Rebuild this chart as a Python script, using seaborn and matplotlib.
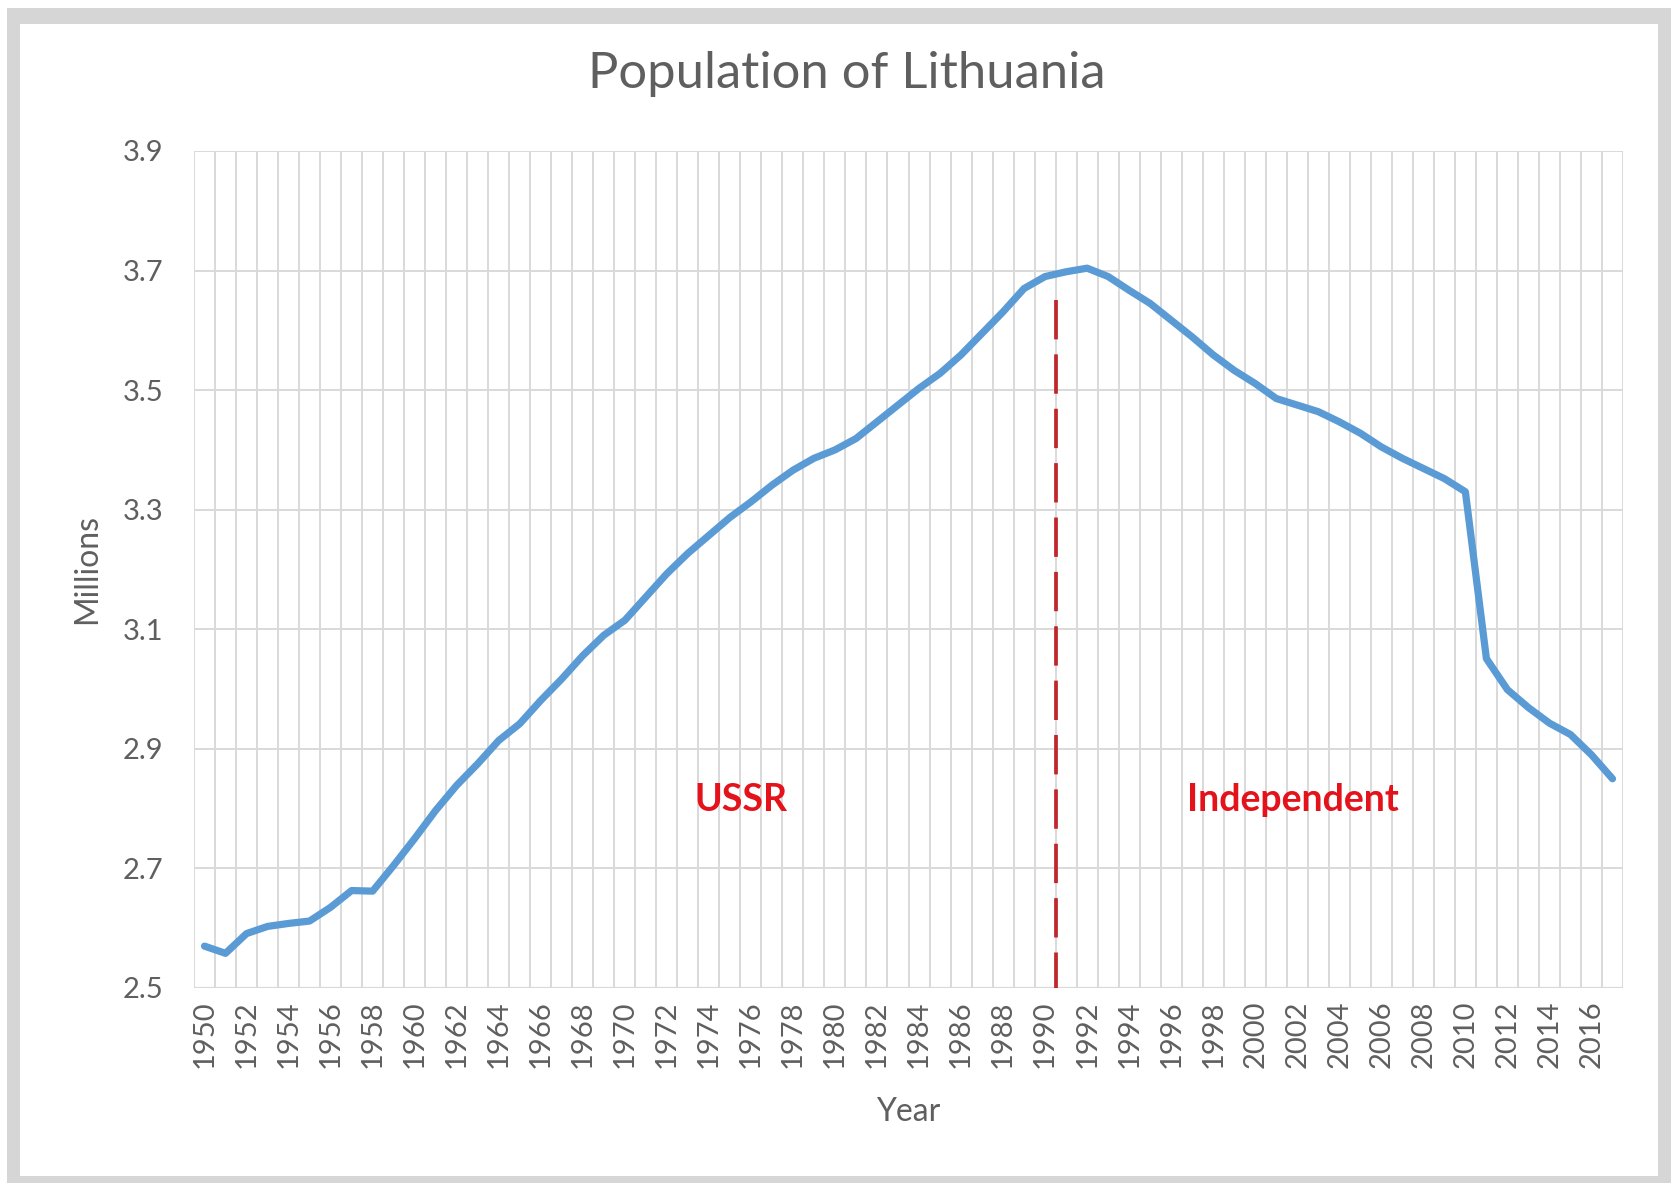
import numpy as np
import pandas as pd
import matplotlib
matplotlib.use("Agg")
import matplotlib.pyplot as plt
import seaborn as sns
from matplotlib.patches import Rectangle

years = list(range(1950, 2018))
population = [
    2.570, 2.558, 2.591, 2.603, 2.608, 2.612, 2.635, 2.663, 2.662, 2.705,
    2.750, 2.797, 2.839, 2.875, 2.914, 2.942, 2.981, 3.017, 3.056, 3.090,
    3.115, 3.154, 3.193, 3.227, 3.257, 3.287, 3.313, 3.341, 3.366, 3.386,
    3.400, 3.419, 3.447, 3.475, 3.503, 3.528, 3.559, 3.595, 3.631, 3.670,
    3.690, 3.698, 3.704, 3.690, 3.667, 3.645, 3.617, 3.589, 3.559, 3.533,
    3.511, 3.486, 3.475, 3.464, 3.447, 3.428, 3.405, 3.386, 3.369, 3.352,
    3.330, 3.051, 2.999, 2.969, 2.943, 2.924, 2.890, 2.850,
]
divider_year = 1990.5
divider_top = 3.65
period_labels = ["USSR", "Independent"]
period_x = [1975.5, 2001.8]
period_y = 2.815

df = pd.DataFrame({"Year": years, "Millions": population})

sns.set_style("white")
plt.rcParams['font.family'] = ['Lato', 'DejaVu Sans']

gray_text = '#5f5f5f'
grid_col = '#d9d9d9'

fig = plt.figure(figsize=(16.71, 11.83), dpi=100)
W, H = 1671, 1183

# frame around the chart
fig.patches.append(Rectangle((7 / W, 0), 1 - 7 / W, 1 - 8 / H, transform=fig.transFigure,
                             facecolor='#d6d6d6', edgecolor='none', zorder=-10))
fig.patches.append(Rectangle((20 / W, 7 / H), (1658 - 20) / W, (1176 - 24) / H,
                             transform=fig.transFigure, facecolor='white',
                             edgecolor='none', zorder=-9))

ax = fig.add_axes([194 / W, (H - 988) / H, (1623 - 194) / W, (988 - 151) / H])
ax.set_facecolor('none')

sns.lineplot(data=df, x="Year", y="Millions", ax=ax, color='#5b9bd5', linewidth=5.2,
             solid_joinstyle='round', solid_capstyle='round', zorder=3)

# dashed divider, drawn top-down so the pattern starts at the top
ax.plot([divider_year, divider_year], [divider_top, 2.5], color='#c0272d',
        linewidth=2.7, dashes=(10.5, 4), zorder=4)

for lab, xx in zip(period_labels, period_x):
    ax.text(xx, period_y, lab, color='#e3121b', fontsize=27, fontweight='bold',
            ha='center', va='center', zorder=5)

ax.set_xlim(years[0] - 0.5, years[-1] + 0.5)
ax.set_ylim(2.5, 3.9)
ax.set_yticks(np.arange(2.5, 3.91, 0.2))
ax.set_yticklabels([f"{v:.1f}" for v in np.arange(2.5, 3.91, 0.2)])
ax.set_xticks(years[::2])
ax.set_xticklabels([str(y) for y in years[::2]], rotation=90)
ax.set_xticks([y - 0.5 for y in years] + [years[-1] + 0.5], minor=True)

ax.grid(False)
ax.grid(True, axis='y', which='major', color=grid_col, linewidth=1.4, zorder=0)
ax.grid(True, axis='x', which='minor', color=grid_col, linewidth=1.4, zorder=0)
ax.tick_params(axis='both', which='both', length=0)
ax.tick_params(axis='y', pad=22, labelsize=21, labelcolor=gray_text)
ax.tick_params(axis='x', pad=9, labelsize=21, labelcolor=gray_text)
for s in ax.spines.values():
    s.set_visible(False)
ax.axhline(2.5, color=grid_col, linewidth=1.6, zorder=1)

ax.set_xlabel("Year", fontsize=23, color=gray_text)
ax.set_ylabel("Millions", fontsize=23, color=gray_text)
ax.xaxis.set_label_coords(0.5, -0.13)
ax.yaxis.set_label_coords(-0.064, 0.5)

fig.text(847 / W, 1 - 74 / H, "Population of Lithuania", fontsize=36.5, color=gray_text,
         ha='center', va='center')

fig.savefig("out.png", dpi=100)
